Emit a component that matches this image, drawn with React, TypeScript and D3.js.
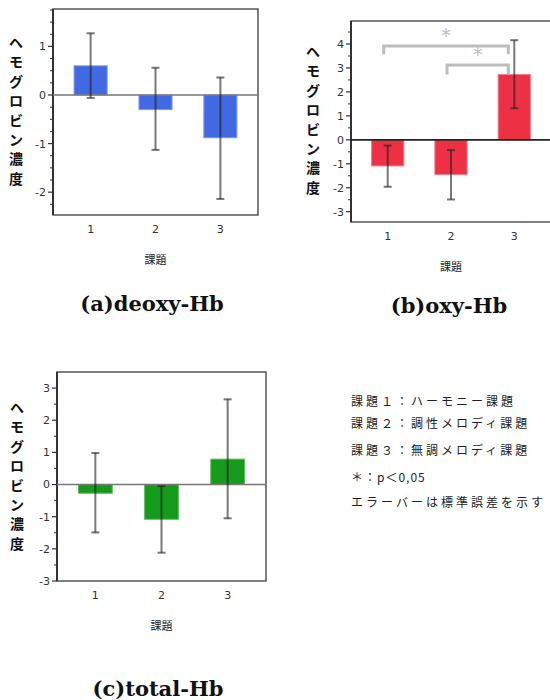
import React from 'react';
import * as d3 from 'd3';

const TASKS = ['1', '2', '3'];
const Y_LABEL = ['ヘ', 'モ', 'グ', 'ロ', 'ビ', 'ン', '濃', '度'];

// mean and error bar bounds
const DEOXY_MEAN = [0.6, -0.3, -0.88];
const DEOXY_HI = [1.27, 0.56, 0.36];
const DEOXY_LO = [-0.06, -1.13, -2.14];

const OXY_MEAN = [-1.09, -1.45, 2.73];
const OXY_HI = [-0.24, -0.43, 4.16];
const OXY_LO = [-1.96, -2.49, 1.32];

const TOTAL_MEAN = [-0.27, -1.08, 0.79];
const TOTAL_HI = [0.98, -0.05, 2.65];
const TOTAL_LO = [-1.49, -2.12, -1.05];

// significance brackets on (b): from task, to task, bar level, leg end
const SIG_FROM = ['1', '2'];
const SIG_TO = ['3', '3'];
const SIG_LEVEL = [3.92, 3.12];
const SIG_LEG = [3.57, 2.73];

const LEGEND = [
  '課題１：ハーモニー課題',
  '課題２：調性メロディ課題',
  '課題３：無調メロディ課題',
  '＊：p＜0,05',
  'エラーバーは標準誤差を示す',
];

const TICK_FONT = '"DejaVu Sans", Tahoma, sans-serif';
const JP_FONT = '"Noto Sans CJK JP", sans-serif';

type PanelProps = {
  left: number; top: number; right: number; bottom: number;
  domain: [number, number];
  minor: number;
  mean: number[]; hi: number[]; lo: number[];
  color: string; edge: string;
  zeroColor: string;
  title: string; titleX: number; titleY: number;
  labelDx: number; labelDy: number;
  sig?: boolean;
};

function Panel(p: PanelProps) {
  const x = d3.scalePoint<string>().domain(TASKS).range([p.left, p.right]).padding(0.58);
  const y = d3.scaleLinear().domain(p.domain).range([p.bottom, p.top]);
  const bw = x.step() * 0.51;
  const major = d3.range(Math.ceil(p.domain[0]), Math.floor(p.domain[1]) + 1);
  const minor = d3.range(Math.ceil(p.domain[0] / p.minor) * p.minor, p.domain[1], p.minor)
    .filter(v => Math.abs(v - Math.round(v)) > 1e-6);

  return (
    <g>
      {/* frame */}
      <rect x={p.left} y={p.top} width={p.right - p.left} height={p.bottom - p.top}
        fill="none" stroke="#555" strokeWidth={1.5} />
      <line x1={p.left} x2={p.left} y1={p.top} y2={p.bottom} stroke="#333" strokeWidth={2} />

      {/* y ticks */}
      {major.map(v => (
        <g key={'M' + v}>
          <line x1={p.left - 5} x2={p.left} y1={y(v)} y2={y(v)} stroke="#333" strokeWidth={1.2} />
          <text x={p.left - 7} y={y(v)} dy="0.36em" textAnchor="end" fontSize={11}
            fontFamily={TICK_FONT} fill="#333">{v}</text>
        </g>
      ))}
      {minor.map(v => (
        <line key={'m' + v} x1={p.left - 3} x2={p.left} y1={y(v)} y2={y(v)} stroke="#333" strokeWidth={1} />
      ))}

      {/* bars */}
      {TASKS.map((t, i) => {
        const v = p.mean[i];
        return (
          <rect key={'b' + t} x={x(t)! - bw / 2} y={y(Math.max(0, v))}
            width={bw} height={Math.abs(y(v) - y(0))}
            fill={p.color} stroke={p.edge} strokeWidth={1} />
        );
      })}

      <line x1={p.left} x2={p.right} y1={y(0)} y2={y(0)} stroke={p.zeroColor} strokeWidth={1.6} />

      {/* error bars */}
      {TASKS.map((t, i) => {
        const cx = x(t)!;
        return (
          <g key={'e' + t} stroke="rgba(30,30,30,0.6)" strokeWidth={2}>
            <line x1={cx} x2={cx} y1={y(p.hi[i])} y2={y(p.lo[i])} />
            <line x1={cx - 4} x2={cx + 4} y1={y(p.hi[i])} y2={y(p.hi[i])} />
            <line x1={cx - 4} x2={cx + 4} y1={y(p.lo[i])} y2={y(p.lo[i])} />
          </g>
        );
      })}

      {p.sig && SIG_FROM.map((f, i) => {
        const x1 = x(f)! - 4;
        const x2 = x(SIG_TO[i])! - 6;
        const yl = y(SIG_LEVEL[i]);
        const yg = y(SIG_LEG[i]);
        return (
          <g key={'s' + i}>
            <path d={`M${x1},${yg}V${yl}H${x2}V${yg}`} fill="none" stroke="#bdbdbd" strokeWidth={3} />
            <text x={(x1 + x2) / 2} y={yl - 4} textAnchor="middle" fontSize={20}
              fontFamily={TICK_FONT} fill="#bdbdbd">*</text>
          </g>
        );
      })}

      {/* x ticks */}
      {TASKS.map(t => (
        <text key={'x' + t} x={x(t)} y={p.bottom + 14} dy="0.36em" textAnchor="middle"
          fontSize={11} fontFamily={TICK_FONT} fill="#333">{t}</text>
      ))}
      <text x={x('2')} y={p.bottom + 45} dy="0.36em" textAnchor="middle" fontSize={11}
        fontFamily={JP_FONT} fill="#222">課題</text>

      {/* vertical y label */}
      {Y_LABEL.map((c, i) => (
        <text key={'l' + i} x={p.left + p.labelDx} y={p.top + p.labelDy + i * 19.4} dy="0.36em"
          textAnchor="middle" fontSize={14} fontWeight="bold" fontFamily={JP_FONT} fill="#111">{c}</text>
      ))}

      <text x={p.titleX} y={p.titleY} dy="0.36em" textAnchor="middle" fontSize={21}
        fontWeight="bold" fontFamily='"DejaVu Serif", serif' fill="#111">{p.title}</text>
    </g>
  );
}

export default function App() {
  return (
    <svg width={550} height={700} style={{ position: 'absolute', left: 0, top: 0, background: '#fff' }}>
      <rect width={550} height={700} fill="#fff" />
      <Panel left={53} top={9} right={258} bottom={215} domain={[-2.47, 1.77]} minor={0.25}
        mean={DEOXY_MEAN} hi={DEOXY_HI} lo={DEOXY_LO} color="#4169e1" edge="#7f9bee"
        zeroColor="#777" title="(a)deoxy-Hb" titleX={152} titleY={303} labelDx={-37} labelDy={34} />
      <Panel left={351} top={21} right={551} bottom={222} domain={[-3.43, 4.96]} minor={0.5}
        mean={OXY_MEAN} hi={OXY_HI} lo={OXY_LO} color="#ee3045" edge="#f57f8c"
        zeroColor="#222" title="(b)oxy-Hb" titleX={449} titleY={305} labelDx={-38} labelDy={31} sig />
      <Panel left={57} top={372} right={266} bottom={581} domain={[-3, 3.5]} minor={0.5}
        mean={TOTAL_MEAN} hi={TOTAL_HI} lo={TOTAL_LO} color="#169a1c" edge="#5cbc5f"
        zeroColor="#777" title="(c)total-Hb" titleX={158} titleY={688} labelDx={-40} labelDy={36} />

      {LEGEND.map((s, i) => (
        <text key={'g' + i} x={351} y={[402, 424, 451, 478, 503][i]} dy="0.36em" fontSize={12}
          letterSpacing={i === 3 ? 1 : 3} fontFamily={JP_FONT} fill="#222">{s}</text>
      ))}
    </svg>
  );
}
